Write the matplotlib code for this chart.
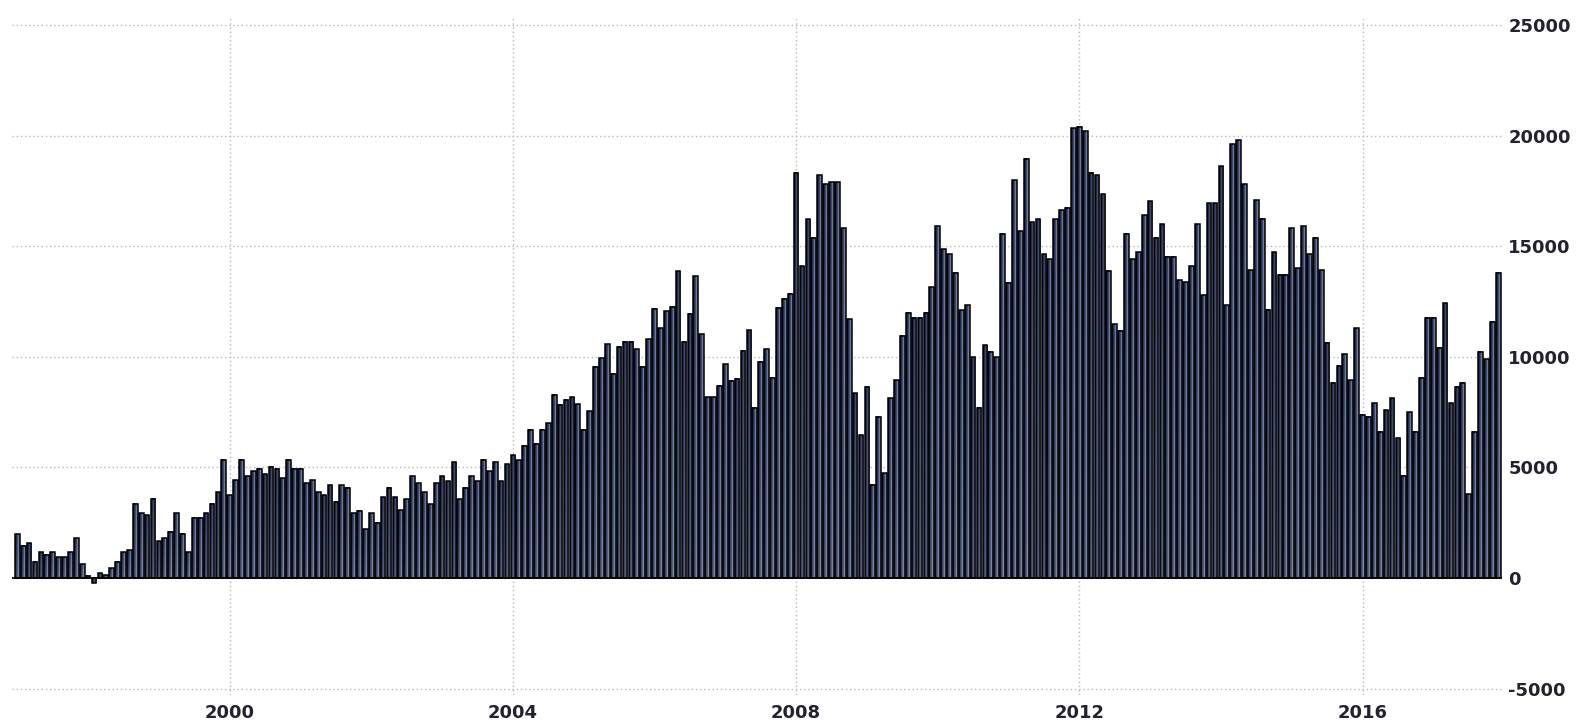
import numpy as np
import matplotlib
matplotlib.use("Agg")
import matplotlib.pyplot as plt
from matplotlib.colors import to_rgb

# ---------------- data (monthly values, Jan 1997 .. Dec 2017) ----------------
start_year = 1997
values = [
    1980, 1455, 1575, 735, 1155, 1050, 1155, 930, 930, 1155, 1800, 630,            # 1997
    105, -225, 225, 135, 435, 735, 1155, 1260, 3360, 2925, 2835, 3585,             # 1998
    1665, 1800, 2100, 2925, 1995, 1155, 2730, 2730, 2925, 3360, 3885, 5355,        # 1999
    3750, 4425, 5355, 4605, 4830, 4935, 4680, 5025, 4935, 4500, 5355, 4935,        # 2000
    4935, 4275, 4425, 3885, 3750, 4185, 3450, 4185, 4080, 2925, 3030, 2205,        # 2001
    2925, 2505, 3660, 4080, 3660, 3060, 3555, 4605, 4275, 3885, 3330, 4275,        # 2002
    4605, 4380, 5235, 3555, 4080, 4605, 4380, 5355, 4830, 5235, 4380, 5130,        # 2003
    5550, 5310, 5985, 6705, 6075, 6705, 7005, 8280, 7830, 8055, 8160, 7860,        # 2004
    6705, 7530, 9555, 9930, 10575, 9225, 10455, 10680, 10680, 10350, 9555, 10800,  # 2005
    12180, 11280, 12060, 12255, 13860, 10680, 11955, 13635, 11010, 8160, 8160, 8700,  # 2006
    9660, 8910, 9000, 10275, 11205, 7705, 9780, 10340, 9060, 12220, 12630, 12850,  # 2007
    18315, 14100, 16210, 15380, 18210, 17790, 17890, 17890, 15800, 11690, 8340, 6460,  # 2008
    8640, 4210, 7280, 4725, 8130, 8940, 10940, 12000, 11770, 11770, 12000, 13150,  # 2009
    15900, 14850, 14630, 13800, 12100, 12330, 9990, 7705, 10520, 10230, 9990, 15560,  # 2010
    13350, 17980, 15680, 18950, 16090, 16210, 14630, 14400, 16210, 16630, 16740, 20320,  # 2011
    20390, 20200, 18320, 18210, 17340, 13880, 11470, 11170, 15560, 14400, 14730, 16400,  # 2012
    17040, 15380, 15980, 14520, 14520, 13470, 13380, 14100, 15980, 12780, 16930, 16930,  # 2013
    18620, 12330, 19600, 19780, 17790, 13910, 17070, 16240, 12120, 14730, 13700, 13700,  # 2014
    15800, 14000, 15900, 14630, 15380, 13910, 10640, 8830, 9590, 10110, 8940, 11290,  # 2015
    7370, 7280, 7900, 6620, 7580, 8130, 6310, 4620, 7480, 6620, 9060, 11770,       # 2016
    11770, 10410, 12420, 7900, 8640, 8830, 3790, 6620, 10220, 9890, 11590, 13800,  # 2017
]
year_ticks = [2000, 2004, 2008, 2012, 2016]
y_ticks = [-5000, 0, 5000, 10000, 15000, 20000, 25000]

x_pos = [start_year + i / 12 for i in range(len(values))]

# ---------------- figure ----------------
W, H = 1581, 728
fig = plt.figure(figsize=(W / 100, H / 100), dpi=100)
ax = fig.add_axes([12 / W, (H - 695.2) / H, 1490 / W, (695.2 - 18.3) / H])
xlim = (1996.925, 2017.97)
ylim = (-5300, 25300)

# bar gradient (horizontal: dark navy -> light stripe, vertical: lighter at bottom)
stops = [0.0, 0.4, 0.7, 0.85, 1.0]
cols = np.array([to_rgb(c) for c in ["#070a16", "#27345c", "#5d6d98", "#a9b2c8", "#3a4566"]])
nx, ny = 24, 64
hx = np.linspace(0, 1, nx)
row = np.stack([np.interp(hx, stops, cols[:, k]) for k in range(3)], axis=-1)
vy = np.linspace(0, 1, ny)[:, None, None]  # 0 = top row of image
grad = row[None, :, :] * (1 - 0.2 * vy) + 0.2 * vy * np.array(to_rgb("#b8c0d4"))
grad = np.clip(grad, 0, 1)

bars = ax.bar(x_pos, values, width=0.8 / 12, color="none", edgecolor="black",
              linewidth=1.1, zorder=3)
for p in bars:
    x0, w, h = p.get_x(), p.get_width(), p.get_height()
    lo, hi = min(0, h), max(0, h)
    img = grad if h >= 0 else grad[::-1]
    ax.imshow(img, extent=(x0, x0 + w, lo, hi), aspect="auto", zorder=2.5,
              interpolation="bilinear")

ax.axhline(0, color="black", lw=1.2, zorder=4)

ax.set_xlim(*xlim)
ax.set_ylim(*ylim)

for s in ax.spines.values():
    s.set_visible(False)

ax.set_axisbelow(True)
ax.set_xticks(year_ticks)
ax.set_xticklabels([str(y) for y in year_ticks])
ax.set_yticks(y_ticks)
ax.set_yticklabels([str(v) for v in y_ticks])
ax.yaxis.tick_right()
ax.grid(True, color="#b8b8b8", linestyle=(0, (1, 2)), linewidth=1.0)

ax.tick_params(axis="both", length=0, labelsize=13, labelcolor="#222230")
ax.tick_params(axis="y", pad=4.5)
ax.tick_params(axis="x", pad=6)
for lab in ax.get_xticklabels() + ax.get_yticklabels():
    lab.set_fontweight("bold")
    lab.set_fontfamily("DejaVu Sans")

fig.savefig("out.png", dpi=100, facecolor="white")
